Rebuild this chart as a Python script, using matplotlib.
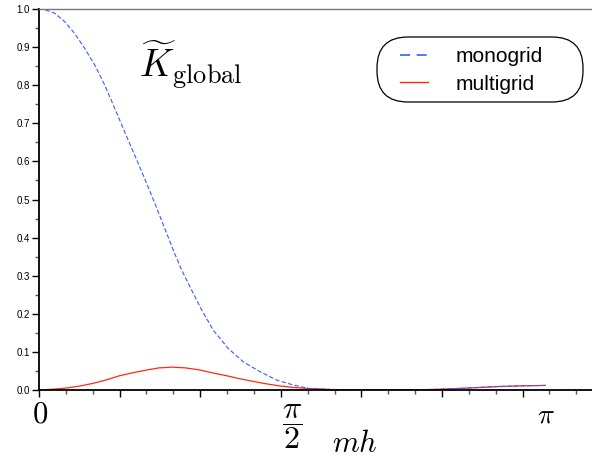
import numpy as np
import matplotlib
matplotlib.use('Agg')
import matplotlib.pyplot as plt
from matplotlib.lines import Line2D
from matplotlib.patches import FancyBboxPatch
from matplotlib.transforms import IdentityTransform

plt.rcParams['mathtext.fontset'] = 'cm'

# values (x in radians, mh)
mono_x = [0.000, 0.031, 0.097, 0.159, 0.221, 0.283, 0.346, 0.408, 0.470, 0.544,
          0.606, 0.668, 0.730, 0.782, 0.833, 0.885, 0.947, 1.009, 1.081, 1.174,
          1.267, 1.371, 1.475, 1.578, 1.671, 1.824, 1.991, 2.320, 2.488, 2.655,
          2.841, 3.003, 3.1416]
mono_y = [1.000, 0.999, 0.989, 0.967, 0.936, 0.897, 0.853, 0.800, 0.739, 0.665,
          0.604, 0.542, 0.478, 0.422, 0.367, 0.315, 0.262, 0.210, 0.157, 0.109,
          0.074, 0.048, 0.026, 0.013, 0.004, 0.001, 0.000, 0.000, 0.002, 0.005,
          0.009, 0.011, 0.012]

multi_x = [0.000, 0.083, 0.166, 0.248, 0.331, 0.414, 0.496, 0.579, 0.662, 0.744,
           0.827, 0.910, 0.992, 1.075, 1.158, 1.241, 1.323, 1.406, 1.489, 1.571,
           1.654, 1.824, 1.991, 2.320, 2.488, 2.655, 2.841, 3.003, 3.1416]
multi_y = [0.000, 0.002, 0.005, 0.010, 0.017, 0.026, 0.037, 0.045, 0.052, 0.058,
           0.060, 0.058, 0.053, 0.045, 0.038, 0.030, 0.023, 0.0165, 0.011, 0.007,
           0.0045, 0.001, 0.000, 0.000, 0.002, 0.005, 0.009, 0.011, 0.012]

blue = '#3a5cff'
red = '#ff2a10'

fig = plt.figure(figsize=(5.92, 4.58), dpi=100)
ax = fig.add_axes([39/592, 68/458, 553/592, 381/458])

ax.plot(multi_x, multi_y, color=red, lw=0.9)
ax.plot(mono_x, mono_y, color=blue, lw=0.8, dashes=(4, 2))

ax.set_xlim(0, 553/161.2)
ax.set_ylim(0, 1.0)

ax.spines['right'].set_visible(False)
ax.spines['top'].set_color('#777777')
ax.spines['top'].set_linewidth(1.0)
ax.spines['left'].set_linewidth(1.3)
ax.spines['bottom'].set_linewidth(1.3)

ax.set_yticks(np.arange(0, 1.01, 0.1))
ax.set_yticks(np.arange(0.05, 1.0, 0.1), minor=True)
ax.set_yticklabels(['%.1f' % v for v in np.arange(0, 1.01, 0.1)],
                   fontfamily='Liberation Sans', fontsize=7)
ax.set_xticks(np.arange(0, 3.01, 0.5))
ax.set_xticks([k/6 for k in range(21) if k % 3 != 0], minor=True)
ax.set_xticklabels([])
ax.tick_params(which='major', direction='out', length=5, width=1, pad=1.5)
ax.tick_params(which='minor', direction='out', length=3, width=1, color='#555555')

xt = ax.get_xaxis_transform()
ax.text(0.006, -0.063, r'$0$', transform=xt, ha='center', va='center', fontsize=22)
ax.text(np.pi/2, -0.097, r'$\dfrac{\pi}{2}$', transform=xt, ha='center', va='center', fontsize=23)
ax.text(np.pi, -0.063, r'$\pi$', transform=xt, ha='center', va='center', fontsize=20)
ax.text(1.957, -0.163, r'$mh$', transform=xt, ha='center', va='baseline', fontsize=22)

ax.text(0.620, 0.819, r'$\widetilde{K}_{\mathrm{global}}$', ha='left', va='baseline', fontsize=27)

# legend box (stadium shape)
box = FancyBboxPatch((377, 356), 206, 65, boxstyle='round,pad=0,rounding_size=31',
                     transform=IdentityTransform(), facecolor='white',
                     edgecolor='black', lw=0.9, zorder=5, clip_on=False)
ax.add_patch(box)

handles = [Line2D([], [], color=blue, lw=1.2, dashes=(6, 4)),
           Line2D([], [], color=red, lw=1.0)]
leg = ax.legend(handles, ['monogrid', 'multigrid'], loc='upper left',
                bbox_to_anchor=((400-39)/553, (390-47)/381), borderaxespad=0,
                borderpad=0, frameon=False, handlelength=1.35, handletextpad=1.3,
                labelspacing=0.42, prop={'family': 'Liberation Sans', 'size': 15})
leg.set_zorder(6)

fig.savefig('out.png', dpi=100)
